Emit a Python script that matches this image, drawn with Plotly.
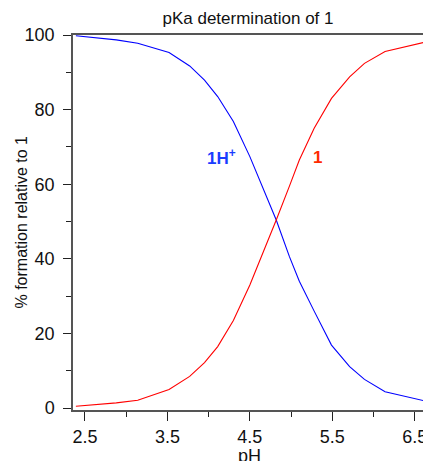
import plotly.graph_objects as go

ph = [2.39, 2.72, 2.88, 3.14, 3.52, 3.77, 3.95, 4.11, 4.30, 4.50, 4.66, 4.82,
      4.98, 5.10, 5.28, 5.49, 5.71, 5.89, 6.14, 6.65]
neutral_1 = [0.5, 1.0, 1.4, 2.1, 5.0, 8.5, 12.2, 16.5, 23.5, 33.0, 41.5, 50.4,
             59.5, 66.5, 75.0, 83.0, 88.8, 92.4, 95.6, 98.2]
protonated_1H = [99.8, 99.1, 98.7, 97.8, 95.3, 91.7, 87.9, 83.5, 76.8, 67.4, 59.0, 50.4,
                 40.6, 34.0, 26.0, 16.9, 11.1, 7.7, 4.4, 1.8]

x_ticks = [2.5, 3.5, 4.5, 5.5, 6.5]
y_ticks = [0, 20, 40, 60, 80, 100]

font = "Liberation Sans"

fig = go.Figure()
fig.add_trace(go.Scatter(x=ph, y=protonated_1H, mode="lines",
                         line=dict(color="#0000ff", width=1.1), name="1H+"))
fig.add_trace(go.Scatter(x=ph, y=neutral_1, mode="lines",
                         line=dict(color="#ff0000", width=1.1), name="1"))

fig.add_annotation(x=4.15, y=67.3, text="<b>1H<sup>+</sup></b>", showarrow=False,
                   font=dict(family=font, size=17, color="#1a3cff"))
fig.add_annotation(x=5.32, y=67.3, text="<b>1</b>", showarrow=False,
                   font=dict(family=font, size=17, color="#ff2a00"))

# axis titles as annotations for precise placement
fig.add_annotation(x=0, xref="paper", y=0.5, yref="paper", xshift=-52,
                   text="% formation relative to 1", textangle=-90, showarrow=False,
                   xanchor="center", yanchor="middle",
                   font=dict(family=font, size=16, color="#111"))
fig.add_annotation(x=4.5, xref="x", y=0, yref="paper", yshift=-34,
                   text="pH", showarrow=False, xanchor="center", yanchor="top",
                   font=dict(family=font, size=18, color="#111"))

fig.update_layout(
    width=423, height=461,
    margin=dict(l=73, r=0, t=35, b=51, autoexpand=False),
    paper_bgcolor="white", plot_bgcolor="white",
    showlegend=False,
    title=dict(text="pKa determination of 1", x=0.5, xref="paper", xanchor="center",
               y=0.961, yref="container", yanchor="middle",
               font=dict(family=font, size=17, color="#111")),
    font=dict(family=font, color="#111"),
)
fig.update_xaxes(
    range=[2.355, 6.6], tickvals=x_ticks, ticktext=[str(v) for v in x_ticks],
    showgrid=False, zeroline=False, automargin=False,
    showline=True, linecolor="#555", linewidth=1.5, mirror=True,
    ticks="outside", ticklen=9, tickcolor="#222", tickwidth=1,
    ticklabelstandoff=1, ticklabeloverflow="allow",
    minor=dict(tickvals=[3.0, 4.0, 5.0, 6.0], ticks="outside", ticklen=5,
               tickcolor="#222", showgrid=False),
    tickfont=dict(family=font, size=18, color="#111"),
)
fig.update_yaxes(
    range=[-0.5, 100], tickvals=y_ticks, ticktext=[str(v) for v in y_ticks],
    showgrid=False, zeroline=False, automargin=False,
    showline=True, linecolor="#555", linewidth=1.5, mirror=False,
    ticks="outside", ticklen=8, tickcolor="#222", tickwidth=1,
    ticklabelstandoff=5,
    minor=dict(tickvals=[10, 30, 50, 70, 90], ticks="outside", ticklen=5,
               tickcolor="#222", showgrid=False),
    tickfont=dict(family=font, size=18, color="#111"),
)

fig.write_html("out.html", config={"displayModeBar": False},
               post_script="document.body.style.margin='0';document.body.style.overflow='hidden';")
